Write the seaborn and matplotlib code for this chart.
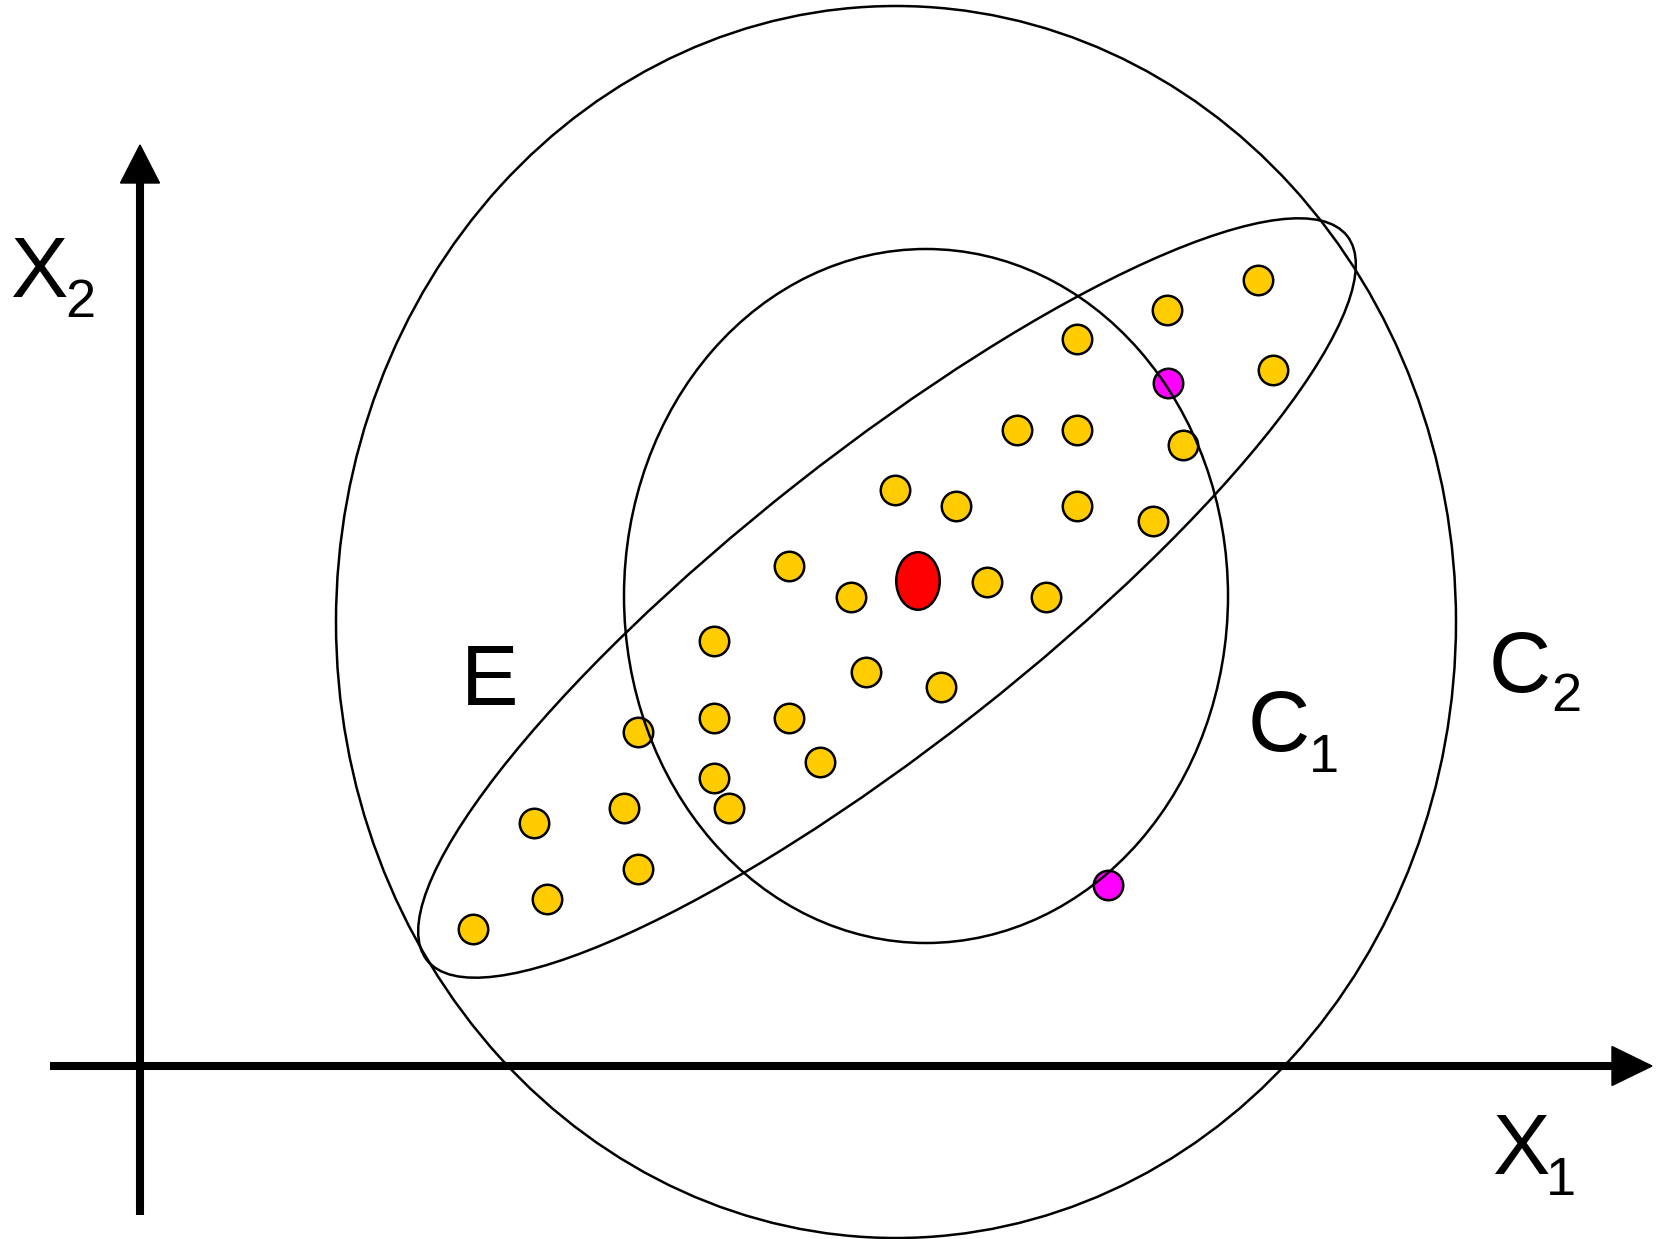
import matplotlib
matplotlib.use('Agg')
import matplotlib.pyplot as plt
import seaborn as sns
import pandas as pd
from matplotlib.patches import Ellipse

sns.set_theme(style='white')
plt.rcParams['font.family'] = ['Liberation Sans', 'DejaVu Sans']

# sample points (x1, x2)
pts_x1 = [1118, 1027, 937, 1133, 877, 937, 1043, 755, 816, 937, 1013, 649, 711, 847, 906,
          574, 726, 801, 498, 574, 649, 680, 574, 589, 484, 394, 498, 407, 333]
pts_x2 = [786, 756, 727, 696, 636, 636, 621, 576, 560, 560, 545, 500, 469, 484, 469,
          425, 394, 379, 334, 348, 348, 304, 288, 258, 258, 243, 197, 167, 137]

# points lying on C1
edge_x1 = [1028, 968]
edge_x2 = [683, 181]

# centre (mean)
centre = (778, 485)

# contours: centre x, centre y, width, height, angle
circle_c2 = (756, 444, 1120, 1232, 0)
circle_c1 = (786, 470, 604, 694, 0)
ellipse_e = (747, 468, 1171, 291, 38.2)

# labels: main letter, subscript
labels = ['X', 'X', 'E', 'C', 'C']
subs = ['2', '1', '', '1', '2']

df = pd.DataFrame({'x1': pts_x1, 'x2': pts_x2})
df_edge = pd.DataFrame({'x1': edge_x1, 'x2': edge_x2})

fig = plt.figure(figsize=(16.57, 12.39), dpi=100)
ax = fig.add_axes([0, 0, 1, 1])
ax.set_xlim(-140, 1517)
ax.set_ylim(-173, 1066)
ax.axis('off')

# axes with arrow heads
ax.plot([-90, 1475], [0, 0], color='black', lw=5.8, solid_capstyle='butt', zorder=1)
ax.fill([1472, 1512, 1472], [19.5, 0, -19.5], color='black', zorder=1)
ax.plot([0, 0], [-149, 886], color='black', lw=5.8, solid_capstyle='butt', zorder=1)
ax.fill([-19.5, 0, 19.5], [883, 921, 883], color='black', zorder=1)

sns.scatterplot(data=df, x='x1', y='x2', s=450, color='#FFCC00', edgecolor='black',
                linewidth=1.8, ax=ax, zorder=3, legend=False)
sns.scatterplot(data=df_edge, x='x1', y='x2', s=450, color='#FF00FF', edgecolor='black',
                linewidth=1.8, ax=ax, zorder=3, legend=False)
ax.add_patch(Ellipse(centre, 43.5, 57.5, facecolor='#FF0000', edgecolor='black', lw=1.8, zorder=3))

for cx, cy, w, h, ang in [circle_c2, circle_c1, ellipse_e]:
    ax.add_patch(Ellipse((cx, cy), w, h, angle=ang, fill=False, edgecolor='black',
                         lw=1.8, zorder=4))

ax.set_xlim(-140, 1517)
ax.set_ylim(-173, 1066)
ax.set_xlabel('')
ax.set_ylabel('')

# label positions (baseline, left)
main_pos = [(-130, 769), (1352, -108), (321, 361), (1108, 315), (1349, 374)]
sub_pos = [(-75, 749), (1406, -129), None, (1169, 294), (1411, 355)]
for lab, sub, mp, sp in zip(labels, subs, main_pos, sub_pos):
    ax.text(mp[0], mp[1], lab, fontsize=62, ha='left', va='baseline', color='black')
    if sub:
        ax.text(sp[0], sp[1], sub, fontsize=39, ha='left', va='baseline', color='black')

fig.savefig('out.png', dpi=100)
